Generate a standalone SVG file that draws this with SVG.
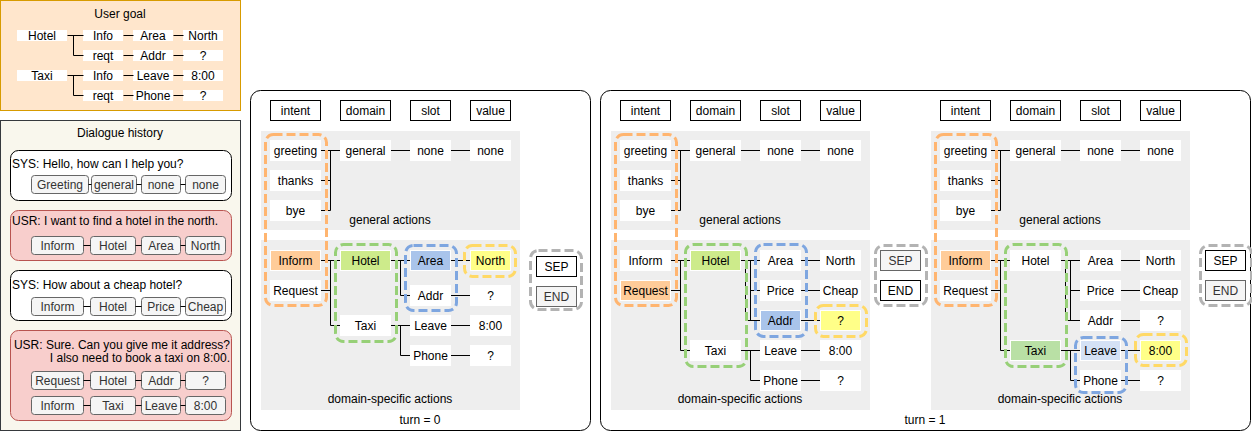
<svg xmlns="http://www.w3.org/2000/svg" width="1252" height="432" viewBox="0 0 1252 432">
<style>
text{font-family:"Liberation Sans",Arial,Helvetica,sans-serif;font-size:12px;fill:#000}
.c{text-anchor:middle;dominant-baseline:central}
.l{dominant-baseline:central}
.r{text-anchor:end;dominant-baseline:central}
.g{fill:#333}
.hd{fill:#fff;stroke:#000}
.nd{fill:#fff;stroke:#fff}
.wb{fill:#fff}
.ga{fill:#eeeeee}
.sb{fill:#f5f5f5;stroke:#666}
.or{fill:#ffcc99;stroke:#fff}
.gr{fill:#cdeb8b;stroke:#fff}
.gr2{fill:#b9e0a5;stroke:#fff}
.bl{fill:#a9c4eb;stroke:#fff}
.bl2{fill:#d4e1f5;stroke:#fff}
.ye{fill:#ffff88;stroke:#fff}
.d{fill:none;stroke-width:3;stroke-dasharray:9 4}
.dor{stroke:#ffb570}.dgr{stroke:#97d077}.dbl{stroke:#7ea6e0}.dye{stroke:#ffd966}.dgy{stroke:#b3b3b3}
.ln{fill:none;stroke:#000;stroke-width:1}
</style>

<!-- User goal -->
<g id="user-goal">
<rect x="0.5" y="0.5" width="240" height="110" fill="#ffe6cc" stroke="#d79b00"/>
<text class="c" x="120" y="14">User goal</text>
<rect class="wb" x="17" y="30" width="50" height="11"/><text class="c" x="42" y="35.5">Hotel</text>
<rect class="wb" x="83" y="30" width="40" height="11"/><text class="c" x="103" y="35.5">Info</text>
<rect class="wb" x="133" y="30" width="40" height="11"/><text class="c" x="153" y="35.5">Area</text>
<rect class="wb" x="183" y="30" width="40" height="11"/><text class="c" x="203" y="35.5">North</text>
<rect class="wb" x="83" y="50" width="40" height="11"/><text class="c" x="103" y="55.5">reqt</text>
<rect class="wb" x="133" y="50" width="40" height="11"/><text class="c" x="153" y="55.5">Addr</text>
<rect class="wb" x="183" y="50" width="40" height="11"/><text class="c" x="203" y="55.5">?</text>
<rect class="wb" x="17" y="70" width="50" height="11"/><text class="c" x="42" y="75.5">Taxi</text>
<rect class="wb" x="83" y="70" width="40" height="11"/><text class="c" x="103" y="75.5">Info</text>
<rect class="wb" x="133" y="70" width="40" height="11"/><text class="c" x="153" y="75.5">Leave</text>
<rect class="wb" x="183" y="70" width="40" height="11"/><text class="c" x="203" y="75.5">8:00</text>
<rect class="wb" x="83" y="90" width="40" height="11"/><text class="c" x="103" y="95.5">reqt</text>
<rect class="wb" x="133" y="90" width="40" height="11"/><text class="c" x="153" y="95.5">Phone</text>
<rect class="wb" x="183" y="90" width="40" height="11"/><text class="c" x="203" y="95.5">?</text>
</g>

<!-- Dialogue history -->
<g id="dialogue-history">
<rect x="0.5" y="120.5" width="240" height="310" fill="#f9f7ed" stroke="#36393d"/>
<text class="c" x="120" y="133">Dialogue history</text>
</g>
<g id="sys1">
<rect x="10.5" y="150.5" width="221" height="50" rx="8" fill="#fff" stroke="#000"/>
<text class="l" x="12" y="163.5">SYS: Hello, how can I help you?</text>
<rect class="sb" x="31.5" y="175.5" width="57" height="18" rx="3"/><text class="c g" x="60" y="184.5">Greeting</text>
<rect class="sb" x="91.5" y="175.5" width="45" height="18" rx="3"/><text class="c g" x="114" y="184.5">general</text>
<rect class="sb" x="141.5" y="175.5" width="39" height="18" rx="3"/><text class="c g" x="161" y="184.5">none</text>
<rect class="sb" x="185.5" y="175.5" width="40" height="18" rx="3"/><text class="c g" x="205.5" y="184.5">none</text>
</g>
<g id="usr1">
<rect x="10.5" y="210.5" width="221" height="50" rx="8" fill="#f8cecc" stroke="#b85450"/>
<text class="l" x="12" y="220.5">USR: I want to find a hotel in the north.</text>
<rect class="sb" x="31.5" y="236.5" width="52" height="18" rx="3"/><text class="c g" x="57.5" y="245.5">Inform</text>
<rect class="sb" x="90.5" y="236.5" width="45" height="18" rx="3"/><text class="c g" x="113" y="245.5">Hotel</text>
<rect class="sb" x="141.5" y="236.5" width="39" height="18" rx="3"/><text class="c g" x="161" y="245.5">Area</text>
<rect class="sb" x="185.5" y="236.5" width="40" height="18" rx="3"/><text class="c g" x="205.5" y="245.5">North</text>
</g>
<g id="sys2">
<rect x="10.5" y="270.5" width="221" height="50" rx="8" fill="#fff" stroke="#000"/>
<text class="l" x="12" y="284.5">SYS: How about a cheap hotel?</text>
<rect class="sb" x="31.5" y="297.5" width="52" height="18" rx="3"/><text class="c g" x="57.5" y="306.5">Inform</text>
<rect class="sb" x="90.5" y="297.5" width="45" height="18" rx="3"/><text class="c g" x="113" y="306.5">Hotel</text>
<rect class="sb" x="141.5" y="297.5" width="39" height="18" rx="3"/><text class="c g" x="161" y="306.5">Price</text>
<rect class="sb" x="185.5" y="297.5" width="40" height="18" rx="3"/><text class="c g" x="205.5" y="306.5">Cheap</text>
</g>
<g id="usr2">
<rect x="10.5" y="330.5" width="221" height="90" rx="8" fill="#f8cecc" stroke="#b85450"/>
<text class="r" x="230" y="345">USR: Sure. Can you give me it address?</text>
<text class="r" x="230" y="357.5">I also need to book a taxi on 8:00.</text>
<rect class="sb" x="31.5" y="371.5" width="52" height="18" rx="3"/><text class="c g" x="57.5" y="380.5">Request</text>
<rect class="sb" x="90.5" y="371.5" width="45" height="18" rx="3"/><text class="c g" x="113" y="380.5">Hotel</text>
<rect class="sb" x="141.5" y="371.5" width="39" height="18" rx="3"/><text class="c g" x="161" y="380.5">Addr</text>
<rect class="sb" x="185.5" y="371.5" width="40" height="18" rx="3"/><text class="c g" x="205.5" y="380.5">?</text>
<rect class="sb" x="31.5" y="396.5" width="52" height="18" rx="3"/><text class="c g" x="57.5" y="405.5">Inform</text>
<rect class="sb" x="90.5" y="396.5" width="45" height="18" rx="3"/><text class="c g" x="113" y="405.5">Taxi</text>
<rect class="sb" x="141.5" y="396.5" width="39" height="18" rx="3"/><text class="c g" x="161" y="405.5">Leave</text>
<rect class="sb" x="185.5" y="396.5" width="40" height="18" rx="3"/><text class="c g" x="205.5" y="405.5">8:00</text>
</g>

<!-- Panels -->
<g id="panel-turn0">
<rect x="250.5" y="90.5" width="340" height="340" rx="10" fill="#fff" stroke="#000"/>
<rect class="ga" x="261" y="131" width="259" height="99"/>
<rect class="ga" x="261" y="240" width="259" height="170"/>
<text class="c" x="390" y="220">general actions</text>
<text class="c" x="390" y="399">domain-specific actions</text>
<text class="c" x="420" y="420">turn = 0</text>
</g>
<g id="panel-turn1">
<rect x="600.5" y="90.5" width="650" height="340" rx="10" fill="#fff" stroke="#000"/>
<rect class="ga" x="611" y="131" width="259" height="99"/>
<rect class="ga" x="611" y="240" width="259" height="170"/>
<rect class="ga" x="931" y="131" width="259" height="99"/>
<rect class="ga" x="931" y="240" width="259" height="170"/>
<text class="c" x="740" y="220">general actions</text>
<text class="c" x="740" y="399">domain-specific actions</text>
<text class="c" x="1060" y="220">general actions</text>
<text class="c" x="1060" y="399">domain-specific actions</text>
<text class="c" x="925" y="420">turn = 1</text>
</g>

<!-- Connectors -->
<g id="connectors" class="ln" transform="translate(0.5,0.5)">
<path class="ln" d="M67,35H83 M73,35V55H83 M123,35H133 M173,35H183 M123,55H133 M173,55H183 M67,75H83 M73,75V95H83 M123,75H133 M173,75H183 M123,95H133 M173,95H183"/>
<path class="ln" d="M88,184H91 M136,184H141 M180,184H185 M83,245H90 M135,245H141 M180,245H185 M83,306H90 M135,306H141 M180,306H185 M83,380H90 M135,380H141 M180,380H185 M83,405H90 M135,405H141 M180,405H185"/>
<path class="ln" d="M320,150H340 M320,180H330 M320,210H330 M330,150V210 M390,150H410 M450,150H470 M320,260H340 M320,290H330 M330,260V325H340 M390,260H410 M400,260V295H410 M390,325H410 M400,325V355H410 M450,260H470 M450,295H470 M450,325H470 M450,355H470"/>
<path class="ln" d="M670,150H690 M670,180H680 M670,210H680 M680,150V210 M740,150H760 M800,150H820 M670,260H690 M670,290H680 M680,260V350H690 M740,260H760 M750,260V320H760 M750,290H760 M745,260V320H760 M740,350H760 M750,350V380H760 M800,260H820 M800,290H820 M800,320H820 M800,350H820 M800,380H820"/>
<path class="ln" d="M990,150H1010 M990,180H1000 M990,210H1000 M1000,150V210 M1060,150H1080 M1120,150H1140 M990,260H1010 M990,290H1000 M1000,260V350H1010 M1060,260H1080 M1070,260V320H1080 M1070,290H1080 M1065,260V320H1080 M1060,350H1080 M1070,350V380H1080 M1120,260H1140 M1120,290H1140 M1120,320H1140 M1120,350H1140 M1120,380H1140"/>
</g>

<!-- Turn 0 nodes -->
<g id="t0-headers">
<rect class="hd" x="270.5" y="100.5" width="50" height="20"/><text class="c" x="295.5" y="110.5">intent</text>
<rect class="hd" x="340.5" y="100.5" width="50" height="20"/><text class="c" x="365.5" y="110.5">domain</text>
<rect class="hd" x="410.5" y="100.5" width="40" height="20"/><text class="c" x="430.5" y="110.5">slot</text>
<rect class="hd" x="470.5" y="100.5" width="40" height="20"/><text class="c" x="490.5" y="110.5">value</text>
</g>
<g id="t0-general">
<rect class="nd" x="270.5" y="140.5" width="50" height="20"/><text class="c" x="295.5" y="150.5">greeting</text>
<rect class="nd" x="270.5" y="170.5" width="50" height="20"/><text class="c" x="295.5" y="180.5">thanks</text>
<rect class="nd" x="270.5" y="200.5" width="50" height="20"/><text class="c" x="295.5" y="210.5">bye</text>
<rect class="nd" x="340.5" y="140.5" width="50" height="20"/><text class="c" x="365.5" y="150.5">general</text>
<rect class="nd" x="410.5" y="140.5" width="40" height="20"/><text class="c" x="430.5" y="150.5">none</text>
<rect class="nd" x="470.5" y="140.5" width="40" height="20"/><text class="c" x="490.5" y="150.5">none</text>
</g>
<g id="t0-domain">
<rect class="or" x="270.5" y="250.5" width="50" height="20"/><text class="c" x="295.5" y="260.5">Inform</text>
<rect class="nd" x="270.5" y="280.5" width="50" height="20"/><text class="c" x="295.5" y="290.5">Request</text>
<rect class="gr" x="340.5" y="250.5" width="50" height="20"/><text class="c" x="365.5" y="260.5">Hotel</text>
<rect class="nd" x="340.5" y="315.5" width="50" height="20"/><text class="c" x="365.5" y="325.5">Taxi</text>
<rect class="bl" x="410.5" y="250.5" width="40" height="20"/><text class="c" x="430.5" y="260.5">Area</text>
<rect class="nd" x="410.5" y="285.5" width="40" height="20"/><text class="c" x="430.5" y="295.5">Addr</text>
<rect class="nd" x="410.5" y="315.5" width="40" height="20"/><text class="c" x="430.5" y="325.5">Leave</text>
<rect class="nd" x="410.5" y="345.5" width="40" height="20"/><text class="c" x="430.5" y="355.5">Phone</text>
<rect class="ye" x="470.5" y="250.5" width="40" height="20"/><text class="c" x="490.5" y="260.5">North</text>
<rect class="nd" x="470.5" y="285.5" width="40" height="20"/><text class="c" x="490.5" y="295.5">?</text>
<rect class="nd" x="470.5" y="315.5" width="40" height="20"/><text class="c" x="490.5" y="325.5">8:00</text>
<rect class="nd" x="470.5" y="345.5" width="40" height="20"/><text class="c" x="490.5" y="355.5">?</text>
</g>
<g id="t0-special">
<rect class="hd" x="536.5" y="256.5" width="40" height="20"/><text class="c" x="556.5" y="266.5">SEP</text>
<rect class="sb" x="536.5" y="286.5" width="40" height="20"/><text class="c g" x="556.5" y="296.5">END</text>
</g>
<g id="t0-selection">
<rect class="d dor" x="265.5" y="134.5" width="61" height="171" rx="8"/>
<rect class="d dgr" x="335.5" y="244.5" width="61" height="97" rx="8"/>
<rect class="d dbl" x="405.5" y="245.5" width="51" height="65" rx="8"/>
<rect class="d dye" x="464.5" y="245.5" width="51" height="31" rx="8"/>
<rect class="d dgy" x="530.5" y="250.5" width="51" height="59" rx="8"/>
</g>

<!-- Turn 1a nodes -->
<g id="t1a-headers">
<rect class="hd" x="620.5" y="100.5" width="50" height="20"/><text class="c" x="645.5" y="110.5">intent</text>
<rect class="hd" x="690.5" y="100.5" width="50" height="20"/><text class="c" x="715.5" y="110.5">domain</text>
<rect class="hd" x="760.5" y="100.5" width="40" height="20"/><text class="c" x="780.5" y="110.5">slot</text>
<rect class="hd" x="820.5" y="100.5" width="40" height="20"/><text class="c" x="840.5" y="110.5">value</text>
</g>
<g id="t1a-general">
<rect class="nd" x="620.5" y="140.5" width="50" height="20"/><text class="c" x="645.5" y="150.5">greeting</text>
<rect class="nd" x="620.5" y="170.5" width="50" height="20"/><text class="c" x="645.5" y="180.5">thanks</text>
<rect class="nd" x="620.5" y="200.5" width="50" height="20"/><text class="c" x="645.5" y="210.5">bye</text>
<rect class="nd" x="690.5" y="140.5" width="50" height="20"/><text class="c" x="715.5" y="150.5">general</text>
<rect class="nd" x="760.5" y="140.5" width="40" height="20"/><text class="c" x="780.5" y="150.5">none</text>
<rect class="nd" x="820.5" y="140.5" width="40" height="20"/><text class="c" x="840.5" y="150.5">none</text>
</g>
<g id="t1a-domain">
<rect class="nd" x="620.5" y="250.5" width="50" height="20"/><text class="c" x="645.5" y="260.5">Inform</text>
<rect class="or" x="620.5" y="280.5" width="50" height="20"/><text class="c" x="645.5" y="290.5">Request</text>
<rect class="gr" x="690.5" y="250.5" width="50" height="20"/><text class="c" x="715.5" y="260.5">Hotel</text>
<rect class="nd" x="690.5" y="340.5" width="50" height="20"/><text class="c" x="715.5" y="350.5">Taxi</text>
<rect class="nd" x="760.5" y="250.5" width="40" height="20"/><text class="c" x="780.5" y="260.5">Area</text>
<rect class="nd" x="760.5" y="280.5" width="40" height="20"/><text class="c" x="780.5" y="290.5">Price</text>
<rect class="bl" x="760.5" y="310.5" width="40" height="20"/><text class="c" x="780.5" y="320.5">Addr</text>
<rect class="nd" x="760.5" y="340.5" width="40" height="20"/><text class="c" x="780.5" y="350.5">Leave</text>
<rect class="nd" x="760.5" y="370.5" width="40" height="20"/><text class="c" x="780.5" y="380.5">Phone</text>
<rect class="nd" x="820.5" y="250.5" width="40" height="20"/><text class="c" x="840.5" y="260.5">North</text>
<rect class="nd" x="820.5" y="280.5" width="40" height="20"/><text class="c" x="840.5" y="290.5">Cheap</text>
<rect class="ye" x="820.5" y="310.5" width="40" height="20"/><text class="c" x="840.5" y="320.5">?</text>
<rect class="nd" x="820.5" y="340.5" width="40" height="20"/><text class="c" x="840.5" y="350.5">8:00</text>
<rect class="nd" x="820.5" y="370.5" width="40" height="20"/><text class="c" x="840.5" y="380.5">?</text>
</g>
<g id="t1a-special">
<rect class="sb" x="880.5" y="250.5" width="40" height="20"/><text class="c g" x="900.5" y="260.5">SEP</text>
<rect class="hd" x="880.5" y="280.5" width="40" height="20"/><text class="c" x="900.5" y="290.5">END</text>
</g>
<g id="t1a-selection">
<rect class="d dor" x="615.5" y="134.5" width="61" height="171" rx="8"/>
<rect class="d dgr" x="685.5" y="244.5" width="61" height="122" rx="8"/>
<rect class="d dbl" x="755.5" y="244.5" width="51" height="92" rx="8"/>
<rect class="d dye" x="815.5" y="305.5" width="51" height="31" rx="8"/>
<rect class="d dgy" x="875.5" y="245.5" width="51" height="60" rx="8"/>
</g>

<!-- Turn 1b nodes -->
<g id="t1b-headers">
<rect class="hd" x="940.5" y="100.5" width="50" height="20"/><text class="c" x="965.5" y="110.5">intent</text>
<rect class="hd" x="1010.5" y="100.5" width="50" height="20"/><text class="c" x="1035.5" y="110.5">domain</text>
<rect class="hd" x="1080.5" y="100.5" width="40" height="20"/><text class="c" x="1100.5" y="110.5">slot</text>
<rect class="hd" x="1140.5" y="100.5" width="40" height="20"/><text class="c" x="1160.5" y="110.5">value</text>
</g>
<g id="t1b-general">
<rect class="nd" x="940.5" y="140.5" width="50" height="20"/><text class="c" x="965.5" y="150.5">greeting</text>
<rect class="nd" x="940.5" y="170.5" width="50" height="20"/><text class="c" x="965.5" y="180.5">thanks</text>
<rect class="nd" x="940.5" y="200.5" width="50" height="20"/><text class="c" x="965.5" y="210.5">bye</text>
<rect class="nd" x="1010.5" y="140.5" width="50" height="20"/><text class="c" x="1035.5" y="150.5">general</text>
<rect class="nd" x="1080.5" y="140.5" width="40" height="20"/><text class="c" x="1100.5" y="150.5">none</text>
<rect class="nd" x="1140.5" y="140.5" width="40" height="20"/><text class="c" x="1160.5" y="150.5">none</text>
</g>
<g id="t1b-domain">
<rect class="or" x="940.5" y="250.5" width="50" height="20"/><text class="c" x="965.5" y="260.5">Inform</text>
<rect class="nd" x="940.5" y="280.5" width="50" height="20"/><text class="c" x="965.5" y="290.5">Request</text>
<rect class="nd" x="1010.5" y="250.5" width="50" height="20"/><text class="c" x="1035.5" y="260.5">Hotel</text>
<rect class="gr2" x="1010.5" y="340.5" width="50" height="20"/><text class="c" x="1035.5" y="350.5">Taxi</text>
<rect class="nd" x="1080.5" y="250.5" width="40" height="20"/><text class="c" x="1100.5" y="260.5">Area</text>
<rect class="nd" x="1080.5" y="280.5" width="40" height="20"/><text class="c" x="1100.5" y="290.5">Price</text>
<rect class="nd" x="1080.5" y="310.5" width="40" height="20"/><text class="c" x="1100.5" y="320.5">Addr</text>
<rect class="bl2" x="1080.5" y="340.5" width="40" height="20"/><text class="c" x="1100.5" y="350.5">Leave</text>
<rect class="nd" x="1080.5" y="370.5" width="40" height="20"/><text class="c" x="1100.5" y="380.5">Phone</text>
<rect class="nd" x="1140.5" y="250.5" width="40" height="20"/><text class="c" x="1160.5" y="260.5">North</text>
<rect class="nd" x="1140.5" y="280.5" width="40" height="20"/><text class="c" x="1160.5" y="290.5">Cheap</text>
<rect class="nd" x="1140.5" y="310.5" width="40" height="20"/><text class="c" x="1160.5" y="320.5">?</text>
<rect class="ye" x="1140.5" y="340.5" width="40" height="20"/><text class="c" x="1160.5" y="350.5">8:00</text>
<rect class="nd" x="1140.5" y="370.5" width="40" height="20"/><text class="c" x="1160.5" y="380.5">?</text>
</g>
<g id="t1b-special">
<rect class="hd" x="1205.5" y="250.5" width="40" height="20"/><text class="c" x="1225.5" y="260.5">SEP</text>
<rect class="sb" x="1205.5" y="280.5" width="40" height="20"/><text class="c g" x="1225.5" y="290.5">END</text>
</g>
<g id="t1b-selection">
<rect class="d dor" x="935.5" y="134.5" width="61" height="171" rx="8"/>
<rect class="d dgr" x="1005.5" y="244.5" width="61" height="122" rx="8"/>
<rect class="d dbl" x="1075.5" y="337.5" width="51" height="55" rx="8"/>
<rect class="d dye" x="1135.5" y="334.5" width="51" height="31" rx="8"/>
<rect class="d dgy" x="1200.5" y="245.5" width="51" height="60" rx="8"/>
</g>
</svg>
